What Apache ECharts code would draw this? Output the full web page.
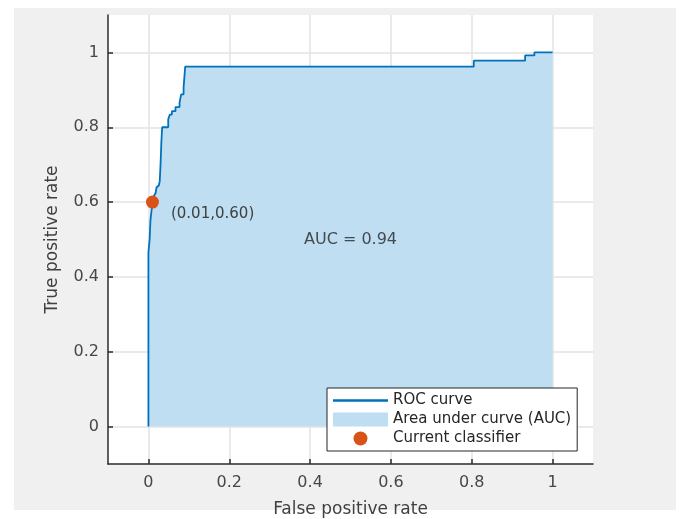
<!DOCTYPE html>
<html>
<head>
<meta charset="utf-8">
<script src="https://cdn.jsdelivr.net/npm/echarts@6/dist/echarts.min.js"></script>
<style>
  html, body { margin: 0; padding: 0; background: #fff; }
  #main { width: 685px; height: 519px; }
</style>
</head>
<body>
<div id="main"></div>
<script>
// ROC curve (staircase corners)
var fpr = [0, 0, 0.002, 0.003, 0.004, 0.005, 0.006, 0.008, 0.010, 0.013, 0.018, 0.020, 0.026, 0.028, 0.030, 0.032, 0.034,
           0.049, 0.049, 0.053, 0.053, 0.058, 0.058, 0.067, 0.067, 0.077, 0.077, 0.081, 0.081, 0.087, 0.087, 0.091, 0.091,
           0.805, 0.805, 0.932, 0.932, 0.955, 0.955, 1];
var tpr = [0, 0.465, 0.470, 0.500, 0.527, 0.550, 0.562, 0.580, 0.600, 0.615, 0.625, 0.639, 0.645, 0.656, 0.700, 0.760, 0.800,
           0.800, 0.821, 0.821, 0.834, 0.834, 0.843, 0.843, 0.854, 0.854, 0.866, 0.866, 0.888, 0.888, 0.906, 0.906, 0.962,
           0.962, 0.978, 0.978, 0.992, 0.992, 1.000, 1.000];
var classifier = [0.01, 0.60];
var aucValue = 0.94;
var aucTextAt = [0.5, 0.5];
var tickVals = [0, 0.2, 0.4, 0.6, 0.8, 1];

var rocData = [];
for (var i = 0; i < fpr.length; i++) rocData.push([fpr[i], tpr[i]]);

var FONT = '"DejaVu Sans", sans-serif';
var myChart = echarts.init(document.getElementById('main'));

function makeAxis(name, gap, rotate, labelMargin) {
    return {
        type: 'value',
        min: -0.1,
        max: 1.1,
        name: name,
        nameLocation: 'middle',
        nameGap: gap,
        nameRotate: rotate,
        nameTextStyle: { fontFamily: FONT, fontSize: 17, color: '#404040' },
        axisLine: { show: true, onZero: false, lineStyle: { color: '#2b2b2b', width: 1.5 } },
        axisTick: { show: true, inside: true, length: 5, customValues: tickVals, lineStyle: { color: '#2b2b2b', width: 1.5 } },
        axisLabel: { customValues: tickVals, fontFamily: FONT, fontSize: 16, color: '#474747', margin: labelMargin },
        splitLine: { show: true, lineStyle: { color: '#e3e3e3', width: 1.5 } }
    };
}

var option = {
    backgroundColor: '#fff',
    animation: false,
    graphic: [
        { type: 'rect', z: -10, shape: { x: 14, y: 8, width: 662, height: 502 }, style: { fill: '#f0f0f0' } }
    ],
    grid: {
        left: 108, top: 15, right: 92, bottom: 55,
        outerBoundsMode: 'none',
        containLabel: false,
        show: true, backgroundColor: '#fff', borderWidth: 0
    },
    xAxis: makeAxis('False positive rate', 37, 0, 11),
    yAxis: makeAxis('True positive rate', 47, 90, 9),
    legend: {
        orient: 'vertical',
        left: 327,
        top: 388,
        padding: [5, 6, 5, 6],
        itemGap: 4,
        itemWidth: 55,
        itemHeight: 14,
        backgroundColor: '#fff',
        borderColor: '#262626',
        borderWidth: 1,
        borderRadius: 0,
        selectedMode: false,
        textStyle: { fontFamily: FONT, fontSize: 15, color: '#262626' },
        data: [
            { name: 'ROC curve', icon: 'path://M0,0L55,0L55,2.5L0,2.5Z', itemStyle: { color: '#0072BD', borderWidth: 0, opacity: 1 } },
            { name: 'Area under curve (AUC)', icon: 'rect', itemStyle: { color: '#bfdef2', borderWidth: 0, opacity: 1 } },
            { name: 'Current classifier', icon: 'circle', itemStyle: { color: '#D95319', borderWidth: 0, opacity: 1 } }
        ]
    },
    series: [
        {
            name: 'Area under curve (AUC)',
            type: 'line',
            data: rocData,
            showSymbol: false,
            symbol: 'none',
            color: '#bfdef2',
            lineStyle: { width: 0 },
            areaStyle: { color: '#bfdef2', opacity: 1 },
            z: 1
        },
        {
            name: 'ROC curve',
            type: 'line',
            data: rocData,
            showSymbol: false,
            symbol: 'none',
            color: '#0072BD',
            lineStyle: { color: '#0072BD', width: 1.8 },
            z: 2
        },
        {
            name: 'Current classifier',
            type: 'scatter',
            data: [classifier],
            symbolSize: 13,
            itemStyle: { color: '#D95319', opacity: 1 },
            label: {
                show: true,
                position: 'right',
                distance: 12,
                offset: [0, 12],
                formatter: '(' + classifier[0].toFixed(2) + ',' + classifier[1].toFixed(2) + ')',
                fontFamily: FONT,
                fontSize: 15,
                color: '#404040'
            },
            z: 3
        },
        {
            name: 'auc',
            type: 'scatter',
            data: [aucTextAt],
            symbolSize: 0,
            silent: true,
            label: {
                show: true,
                position: 'inside',
                formatter: 'AUC = ' + aucValue.toFixed(2),
                fontFamily: FONT,
                fontSize: 16,
                color: '#262626'
            },
            z: 3
        }
    ]
};

myChart.setOption(option);
</script>
</body>
</html>
